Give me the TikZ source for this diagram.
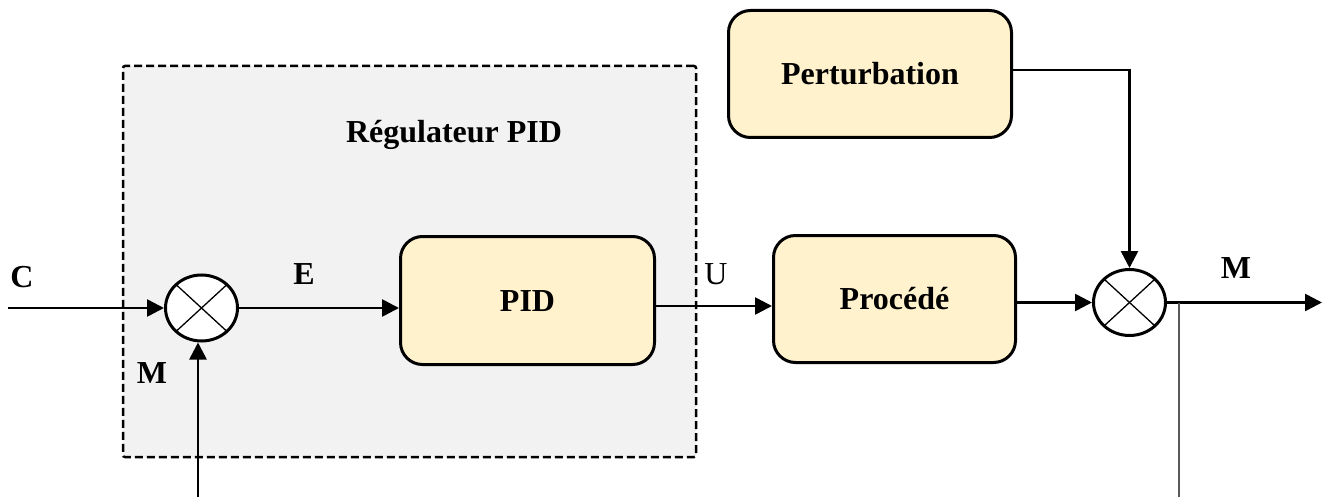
\documentclass[tikz,border=0pt]{standalone}
\usepackage{fontspec}
\setmainfont{Liberation Serif}
\usetikzlibrary{arrows.meta,shapes.geometric}
\definecolor{boxfill}{HTML}{FFF2CC}
\definecolor{regfill}{HTML}{F2F2F2}
\begin{document}
\begin{tikzpicture}[x=1pt,y=-1pt,
  blk/.style={draw, line width=3pt, fill=boxfill, rounded corners=22pt, inner sep=0pt, text height=21.5pt, text depth=0pt, font=\fontsize{32}{38}\selectfont\bfseries},
  region/.style={draw, fill=regfill, line width=2.5pt, dash pattern=on 8pt off 4pt, rounded corners=2pt, inner sep=0pt},
  sum/.style={draw, ellipse, line width=3pt, fill=white, minimum width=72pt, minimum height=66pt, inner sep=0pt},
  lbl/.style={anchor=base, inner sep=0pt, font=\fontsize{32}{38}\selectfont\bfseries},
  sig/.style={line width=2.6pt, -{Triangle[length=17pt,width=17pt]}},
  cross/.style={line width=1.3pt, shorten >=1pt, shorten <=1pt},
]
\useasboundingbox (0,0) rectangle (1327,497);
\node[region, minimum width=573pt, minimum height=391pt] (reg) at (409.5,261.5) {};
\node[lbl] (regt) at (454,143) {Régulateur PID};

\node[blk, minimum width=254pt, minimum height=128pt] (pid) at (527.5,300.5) {PID};
\node[blk, minimum width=242pt, minimum height=127pt] (proc) at (894.5,299) {Procédé};
\node[blk, minimum width=283pt, minimum height=127pt] (pert) at (870,74) {Perturbation};

\node[sum] (s1) at (201.5,308) {};
\node[sum] (s2) at (1129.5,302.5) {};
\draw[cross] (s1.north west) -- (s1.south east);
\draw[cross] (s1.north east) -- (s1.south west);
\draw[cross] (s2.north west) -- (s2.south east);
\draw[cross] (s2.north east) -- (s2.south west);

\coordinate (cin) at (8,308);
\coordinate (min) at (198,497);
\coordinate (tap) at (1179,302.5);
\coordinate (tapend) at (1179,497);
\coordinate (mout) at (1322,302.5);

\draw[sig] (cin) -- (s1.west);
\draw[sig] (min) -- (min |- s1.south);
\draw[sig] (s1.east) -- (s1.east -| pid.west);
\draw[sig] ([yshift=-5.5pt]pid.east) -- ([yshift=-5.5pt]pid.east -| proc.west);
\draw[sig] ([yshift=-3.5pt]proc.east) -- (s2.west);
\draw[sig] ([yshift=4pt]pert.east) -| (s2.north);
\draw[sig] (s2.east) -- (mout);
\draw[line width=1.3pt, draw=black!65] (tap) -- (tapend);

\node[lbl] (lc) at (22,287) {C};
\node[lbl] (lm1) at (152,383) {M};
\node[lbl] (le) at (304,284) {E};
\node[lbl, font=\fontsize{32}{38}\selectfont] (lu) at (716,284) {U};
\node[lbl] (lm2) at (1236,278) {M};
\end{tikzpicture}
\end{document}
